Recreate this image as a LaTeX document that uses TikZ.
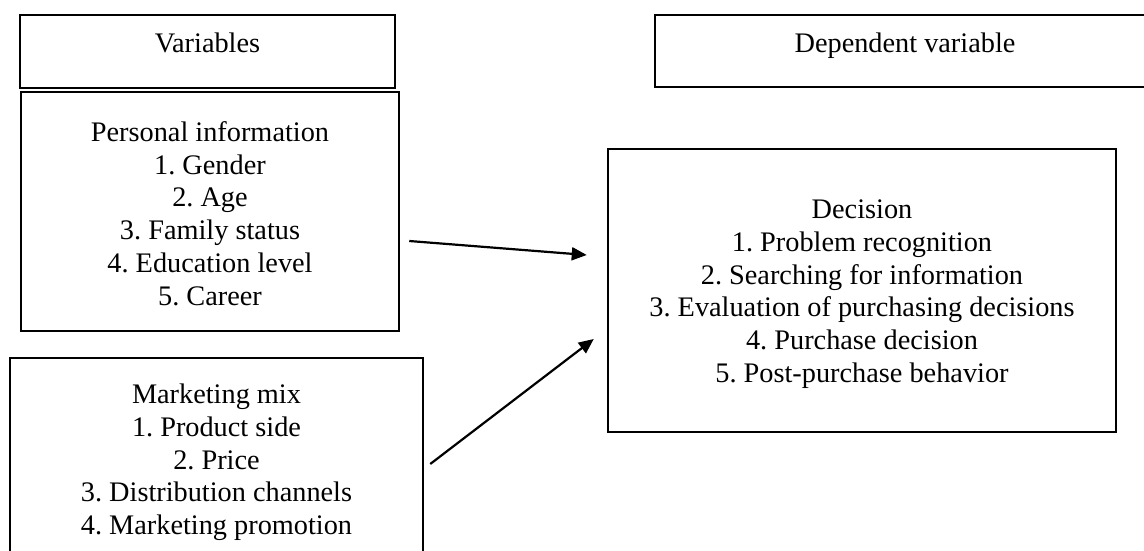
\documentclass[tikz,border=0pt]{standalone}
\usepackage{fontspec}
\setmainfont{Liberation Serif}
\usetikzlibrary{arrows.meta,calc}
\frenchspacing
\begin{document}
\begin{tikzpicture}[x=1pt,y=-1pt,
  box/.style={draw, line width=2.5pt, rectangle, inner sep=0pt},
  txt/.style={font=\fontsize{28.3}{32.7}\selectfont, align=center, inner sep=0pt},
  arr/.style={line width=2.2pt, -{Triangle[length=15pt,width=13pt]}}]
\useasboundingbox[fill=white] (0,0) rectangle (1144,551);
\begin{scope}
\clip (0,0) rectangle (1144,551);
% boxes
\node[box, minimum width=375pt, minimum height=73pt] (varbox) at (207.5,51.5) {};
\node[box, minimum width=500pt, minimum height=72pt] (depbox) at (905,51) {};
\node[box, minimum width=378pt, minimum height=239pt] (pibox) at (210,211.5) {};
\node[box, minimum width=413pt, minimum height=204pt] (mmbox) at (216.5,460) {};
\node[box, minimum width=508pt, minimum height=283pt] (decbox) at (862,290.5) {};
% texts
\node[txt] (vartxt) at (207.5,43) {Variables};
\node[txt] (deptxt) at (905,46) {Dependent variable};
\node[txt] (pitxt) at (210,213.5) {Personal information\\1. Gender\\2. Age\\3. Family status\\4. Education level\\5. Career};
\node[txt] (mmtxt) at (216.5,462.5) {Marketing mix\\1. Product side\\2. Price\\3. Distribution channels\\4. Marketing promotion};
\node[txt] (dectxt) at (862,294) {Decision\\1. Problem recognition\\2. Searching for information\\3. Evaluation of purchasing decisions\\4. Purchase decision\\5. Post-purchase behavior};
% arrows
\coordinate (a1s) at ($(pibox.east)+(9,29.5)$);
\coordinate (a1e) at ($(decbox.west)+(-20,-35.5)$);
\coordinate (a2s) at ($(mmbox.east)+(6,4)$);
\coordinate (a2e) at ($(decbox.west)+(-13,48.5)$);
\draw[arr] (a1s) -- (a1e);
\draw[arr] (a2s) -- (a2e);
\end{scope}
\end{tikzpicture}
\end{document}
